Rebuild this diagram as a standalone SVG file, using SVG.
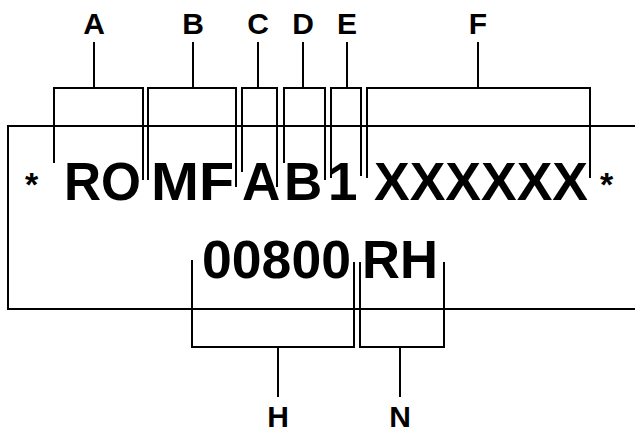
<svg xmlns="http://www.w3.org/2000/svg" width="635" height="434" viewBox="0 0 635 434">
<style>
.ln{fill:none;stroke:#000;stroke-width:2}
.lbl{font-family:"Liberation Sans",Arial,sans-serif;font-weight:bold;font-size:30px;fill:#000;text-anchor:middle}
.code{font-family:"Liberation Sans",Arial,sans-serif;font-weight:bold;font-size:53px;fill:#000}
.ast{font-family:"Liberation Sans",Arial,sans-serif;font-weight:bold;font-size:34px;fill:#000}
</style>
<rect width="635" height="434" fill="#fff"/>
<g id="plate">
<path class="ln" d="M635,126 H8 V309 H635"/>
<text class="ast" x="25" y="196">*</text>
<text class="code" x="64" y="200" textLength="77" lengthAdjust="spacingAndGlyphs">RO</text>
<text class="code" x="151" y="200" textLength="83" lengthAdjust="spacingAndGlyphs">MF</text>
<text class="code" x="242" y="200">A</text>
<text class="code" x="284" y="200">B</text>
<text class="code" x="328" y="200">1</text>
<text class="code" x="374" y="200" textLength="214" lengthAdjust="spacingAndGlyphs">XXXXXX</text>
<text class="ast" x="600" y="196">*</text>
<text class="code" x="202" y="278" textLength="149" lengthAdjust="spacingAndGlyphs">00800</text>
<text class="code" x="362" y="278" textLength="76" lengthAdjust="spacingAndGlyphs">RH</text>
</g>
<g id="connectors">
<path class="ln" d="M54,163 V88 H143 V180 M94,42 V88"/>
<path class="ln" d="M148,180 V88 H236 V187 M193,42 V88"/>
<path class="ln" d="M242,172 V88 H277 V187 M258,42 V88"/>
<path class="ln" d="M284,163 V88 H325 V180 M303,42 V88"/>
<path class="ln" d="M331,178 V88 H361 V176 M347,42 V88"/>
<path class="ln" d="M367,178 V88 H590 V178 M478,42 V88"/>
<path class="ln" d="M192,260 V347 H354 V262 M278,347 V397"/>
<path class="ln" d="M360,262 V347 H444 V262 M400,347 V397"/>
</g>
<g id="label-A"><text class="lbl" x="94" y="34">A</text></g>
<g id="label-B"><text class="lbl" x="193" y="34">B</text></g>
<g id="label-C"><text class="lbl" x="258" y="34">C</text></g>
<g id="label-D"><text class="lbl" x="303" y="34">D</text></g>
<g id="label-E"><text class="lbl" x="347" y="34">E</text></g>
<g id="label-F"><text class="lbl" x="478" y="34">F</text></g>
<g id="label-H"><text class="lbl" x="278" y="427">H</text></g>
<g id="label-N"><text class="lbl" x="400" y="427">N</text></g>
</svg>
